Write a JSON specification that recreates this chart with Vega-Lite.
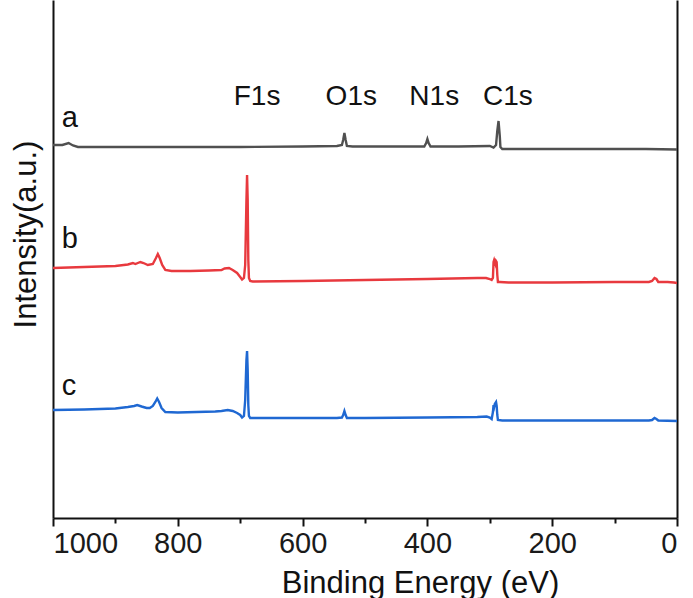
{
  "$schema": "https://vega.github.io/schema/vega-lite/v6.json",
  "width": 624,
  "height": 518,
  "autosize": "none",
  "padding": {"left": 53, "top": 0, "right": 16, "bottom": 80},
  "background": "white",
  "config": {"view": {"stroke": null}, "font": "Liberation Sans"},
  "datasets": {
    "spectra": [
      {"s":"a","e":1000,"i":371},{"s":"a","e":985,"i":371},{"s":"a","e":975,"i":373},{"s":"a","e":968,"i":370.5},{"s":"a","e":960,"i":369},{"s":"a","e":900,"i":369},{"s":"a","e":800,"i":369},{"s":"a","e":700,"i":369},{"s":"a","e":600,"i":369.5},{"s":"a","e":545,"i":370},{"s":"a","e":537,"i":371},{"s":"a","e":535,"i":376},{"s":"a","e":533,"i":383},{"s":"a","e":531,"i":376},{"s":"a","e":529,"i":370},{"s":"a","e":520,"i":369.5},{"s":"a","e":450,"i":369.5},{"s":"a","e":405,"i":369.5},{"s":"a","e":402,"i":373},{"s":"a","e":400,"i":377},{"s":"a","e":398,"i":373},{"s":"a","e":395,"i":369.5},{"s":"a","e":350,"i":369.5},{"s":"a","e":300,"i":370},{"s":"a","e":294,"i":368.5},{"s":"a","e":290,"i":371},{"s":"a","e":288,"i":385},{"s":"a","e":286,"i":395},{"s":"a","e":284,"i":380},{"s":"a","e":283,"i":369},{"s":"a","e":280,"i":367},{"s":"a","e":200,"i":367},{"s":"a","e":100,"i":367},{"s":"a","e":50,"i":367},{"s":"a","e":0,"i":366.5},
      {"s":"b","e":1000,"i":248},{"s":"b","e":950,"i":249},{"s":"b","e":900,"i":250},{"s":"b","e":880,"i":251.5},{"s":"b","e":872,"i":253},{"s":"b","e":868,"i":252},{"s":"b","e":860,"i":254},{"s":"b","e":855,"i":253},{"s":"b","e":848,"i":251},{"s":"b","e":840,"i":252},{"s":"b","e":835,"i":258},{"s":"b","e":832,"i":262},{"s":"b","e":829,"i":258},{"s":"b","e":825,"i":251},{"s":"b","e":820,"i":246},{"s":"b","e":810,"i":245},{"s":"b","e":780,"i":245},{"s":"b","e":750,"i":245.5},{"s":"b","e":730,"i":246},{"s":"b","e":725,"i":247.5},{"s":"b","e":718,"i":248},{"s":"b","e":712,"i":246},{"s":"b","e":705,"i":243},{"s":"b","e":700,"i":239},{"s":"b","e":697,"i":236.5},{"s":"b","e":694,"i":238},{"s":"b","e":692,"i":251},{"s":"b","e":690,"i":316},{"s":"b","e":689,"i":341},{"s":"b","e":688,"i":316},{"s":"b","e":687,"i":256},{"s":"b","e":686,"i":238},{"s":"b","e":684,"i":235},{"s":"b","e":680,"i":234.5},{"s":"b","e":600,"i":235},{"s":"b","e":500,"i":236},{"s":"b","e":400,"i":237},{"s":"b","e":320,"i":238},{"s":"b","e":306,"i":238},{"s":"b","e":300,"i":237},{"s":"b","e":297,"i":236},{"s":"b","e":295,"i":238},{"s":"b","e":294,"i":254},{"s":"b","e":293,"i":256},{"s":"b","e":292,"i":254},{"s":"b","e":291,"i":252},{"s":"b","e":290,"i":255},{"s":"b","e":289,"i":254},{"s":"b","e":288,"i":241},{"s":"b","e":287,"i":234},{"s":"b","e":284,"i":234},{"s":"b","e":270,"i":233.5},{"s":"b","e":200,"i":233.5},{"s":"b","e":100,"i":234},{"s":"b","e":45,"i":234},{"s":"b","e":40,"i":235},{"s":"b","e":36,"i":238},{"s":"b","e":33,"i":237},{"s":"b","e":30,"i":234},{"s":"b","e":15,"i":234},{"s":"b","e":5,"i":233.5},{"s":"b","e":0,"i":233},
      {"s":"c","e":1000,"i":106},{"s":"c","e":950,"i":106.5},{"s":"c","e":900,"i":107.5},{"s":"c","e":880,"i":109},{"s":"c","e":870,"i":110},{"s":"c","e":865,"i":111},{"s":"c","e":858,"i":109.5},{"s":"c","e":850,"i":108},{"s":"c","e":845,"i":108},{"s":"c","e":840,"i":110},{"s":"c","e":836,"i":114},{"s":"c","e":833,"i":117.5},{"s":"c","e":830,"i":114},{"s":"c","e":826,"i":108},{"s":"c","e":820,"i":104},{"s":"c","e":800,"i":103.5},{"s":"c","e":770,"i":104},{"s":"c","e":740,"i":104.5},{"s":"c","e":730,"i":105},{"s":"c","e":720,"i":106},{"s":"c","e":712,"i":105},{"s":"c","e":705,"i":103},{"s":"c","e":700,"i":101},{"s":"c","e":697,"i":98.5},{"s":"c","e":694,"i":100},{"s":"c","e":692,"i":116},{"s":"c","e":690,"i":156},{"s":"c","e":689,"i":165},{"s":"c","e":688,"i":146},{"s":"c","e":687,"i":111},{"s":"c","e":686,"i":100},{"s":"c","e":684,"i":98},{"s":"c","e":650,"i":98},{"s":"c","e":600,"i":98},{"s":"c","e":545,"i":98},{"s":"c","e":537,"i":98.5},{"s":"c","e":535,"i":101},{"s":"c","e":533,"i":105},{"s":"c","e":531,"i":101},{"s":"c","e":529,"i":98},{"s":"c","e":500,"i":98},{"s":"c","e":400,"i":98.5},{"s":"c","e":320,"i":99},{"s":"c","e":305,"i":99.5},{"s":"c","e":300,"i":98.5},{"s":"c","e":297,"i":97},{"s":"c","e":295,"i":104},{"s":"c","e":294,"i":111},{"s":"c","e":293,"i":109},{"s":"c","e":292,"i":112},{"s":"c","e":290,"i":114},{"s":"c","e":289,"i":110},{"s":"c","e":288,"i":101},{"s":"c","e":287,"i":96},{"s":"c","e":280,"i":95.5},{"s":"c","e":200,"i":95.5},{"s":"c","e":100,"i":95.5},{"s":"c","e":45,"i":95.5},{"s":"c","e":40,"i":96},{"s":"c","e":36,"i":98},{"s":"c","e":33,"i":97},{"s":"c","e":30,"i":95.5},{"s":"c","e":0,"i":95}
    ],
    "curveLabels": [
      {"label":"a","e":986,"i":389},
      {"label":"b","e":986,"i":268},
      {"label":"c","e":986,"i":121}
    ],
    "peakLabels": [
      {"label":"F1s","e":673,"i":411},
      {"label":"O1s","e":522,"i":411},
      {"label":"N1s","e":389,"i":411},
      {"label":"C1s","e":271,"i":411}
    ]
  },
  "layer": [
    {
      "data": {"name": "spectra"},
      "mark": {"type": "line", "strokeWidth": 2.4, "interpolate": "linear", "clip": true},
      "encoding": {
        "x": {
          "field": "e", "type": "quantitative",
          "scale": {"domain": [0, 1000], "reverse": true, "nice": false},
          "axis": {
            "title": "Binding Energy (eV)",
            "values": [0,100,200,300,400,500,600,700,800,900,1000],
            "labelExpr": "datum.value % 200 === 0 ? datum.label : ''",
            "format": "d",
            "grid": false,
            "domainColor": "#111", "domainWidth": 2,
            "tickColor": "#111", "tickWidth": 2,
            "tickSize": {"condition": {"test": "datum.value % 200 === 0", "value": 8}, "value": 5},
            "labelFontSize": 29, "labelColor": "#1a1a1a", "labelPadding": 3,
            "labelFont": "Liberation Sans",
            "titleFontSize": 31, "titleFontWeight": "normal", "titleColor": "#111",
            "titleFont": "Liberation Sans",
            "titleX": 367, "titleY": 74, "titleBaseline": "alphabetic", "titleAlign": "center"
          }
        },
        "y": {
          "field": "i", "type": "quantitative",
          "scale": {"domain": [-2, 516], "nice": false, "zero": false},
          "axis": {
            "title": "Intensity(a.u.)",
            "labels": false, "ticks": false, "grid": false,
            "domainColor": "#111", "domainWidth": 2,
            "titleFontSize": 31, "titleFontWeight": "normal", "titleColor": "#111",
            "titleFont": "Liberation Sans",
            "titleAngle": -90, "titleX": -18, "titleY": 234,
            "titleBaseline": "alphabetic", "titleAlign": "center"
          }
        },
        "color": {
          "field": "s", "type": "nominal",
          "scale": {"domain": ["a","b","c"], "range": ["#505050", "#e8393e", "#1f68d2"]},
          "legend": null
        }
      }
    },
    {
      "data": {"name": "spectra"},
      "mark": {"type": "rule", "opacity": 0},
      "encoding": {
        "y": {
          "field": "i", "type": "quantitative",
          "axis": {"orient": "right", "title": null, "labels": false, "ticks": false, "grid": false, "domainColor": "#111", "domainWidth": 2}
        }
      }
    },
    {
      "data": {"name": "curveLabels"},
      "mark": {"type": "text", "align": "left", "baseline": "alphabetic", "fontSize": 29, "font": "Liberation Sans", "color": "#111"},
      "encoding": {
        "x": {"field": "e", "type": "quantitative"},
        "y": {"field": "i", "type": "quantitative", "axis": null},
        "text": {"field": "label"}
      }
    },
    {
      "data": {"name": "peakLabels"},
      "mark": {"type": "text", "align": "center", "baseline": "alphabetic", "fontSize": 28, "font": "Liberation Sans", "color": "#111"},
      "encoding": {
        "x": {"field": "e", "type": "quantitative"},
        "y": {"field": "i", "type": "quantitative", "axis": null},
        "text": {"field": "label"}
      }
    }
  ],
  "resolve": {"axis": {"y": "independent"}}
}
